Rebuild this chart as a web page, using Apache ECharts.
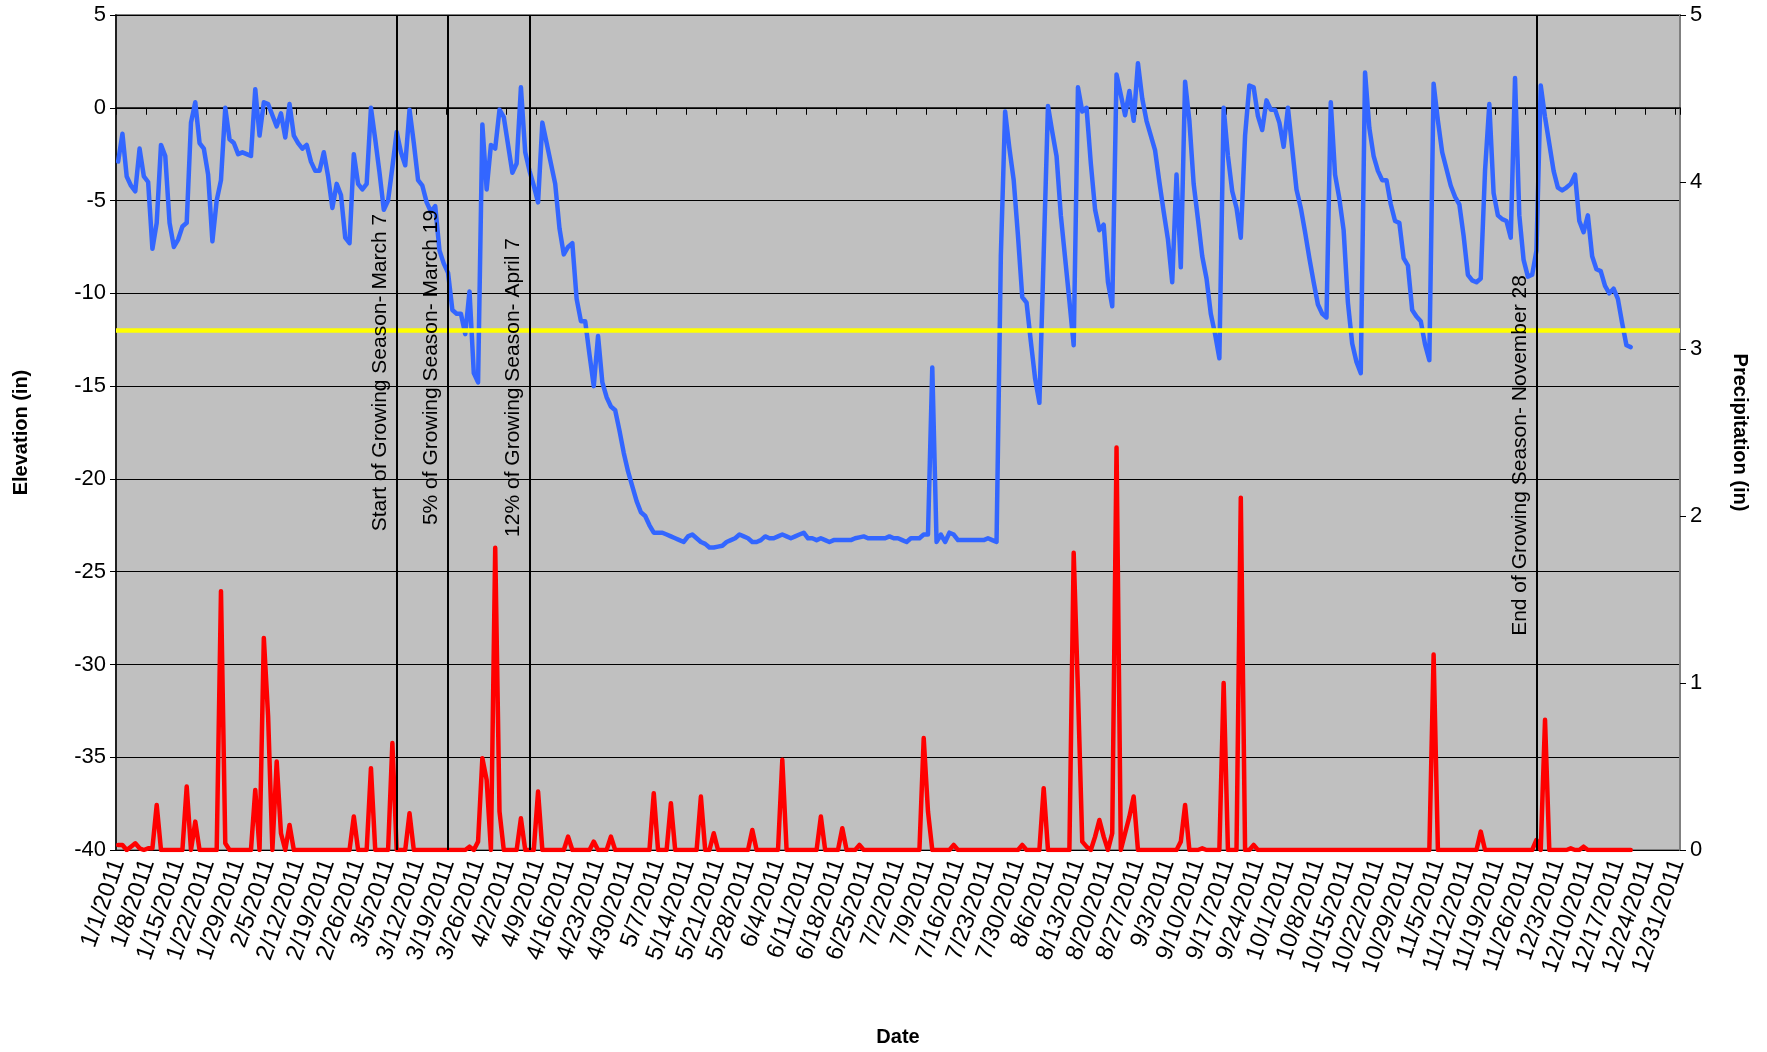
<!DOCTYPE html>
<html>
<head>
<meta charset="utf-8">
<script src="https://cdn.jsdelivr.net/npm/echarts@6/dist/echarts.min.js"></script>
<style>
  html, body { margin: 0; padding: 0; background: #ffffff; }
  #chart { width: 1767px; height: 1052px; }
</style>
</head>
<body>
<div id="chart"></div>
<script>
// Daily dates for 2011 (category axis)
const monthLengths = [31, 28, 31, 30, 31, 30, 31, 31, 30, 31, 30, 31];
const dates = [];
monthLengths.forEach(function (len, m) {
  for (let d = 1; d <= len; d++) dates.push((m + 1) + '/' + d + '/2011');
});

// Water table elevation (in), one value per day from 1/1/2011
const elevation = [
  -2.9, -1.4, -3.7, -4.2, -4.5, -2.2, -3.7, -4.0, -7.6, -6.2,
  -2.0, -2.6, -6.2, -7.5, -7.1, -6.4, -6.2, -0.8, 0.3, -1.9,
  -2.2, -3.6, -7.2, -5.0, -3.9, 0.0, -1.7, -1.9, -2.5, -2.4,
  -2.5, -2.6, 1.0, -1.5, 0.3, 0.2, -0.4, -1.0, -0.3, -1.6,
  0.2, -1.5, -1.9, -2.2, -2.0, -2.9, -3.4, -3.4, -2.4, -3.7,
  -5.4, -4.1, -4.7, -7.0, -7.3, -2.5, -4.1, -4.4, -4.1, 0.0,
  -1.7, -3.5, -5.5, -5.0, -3.2, -1.3, -2.4, -3.1, -0.1, -1.9,
  -3.9, -4.2, -5.1, -5.6, -5.3, -7.7, -8.4, -8.9, -10.9, -11.1,
  -11.1, -12.2, -9.9, -14.3, -14.8, -0.9, -4.4, -2.0, -2.2, -0.1,
  -0.5, -2.0, -3.5, -3.0, 1.1, -2.4, -3.4, -4.2, -5.1, -0.8,
  -1.9, -3.0, -4.1, -6.5, -7.9, -7.5, -7.3, -10.3, -11.5, -11.5,
  -13.3, -15.0, -12.3, -14.8, -15.6, -16.1, -16.3, -17.4, -18.6, -19.6,
  -20.4, -21.2, -21.8, -22.0, -22.5, -22.9, -22.9, -22.9, -23.0, -23.1,
  -23.2, -23.3, -23.4, -23.1, -23.0, -23.2, -23.4, -23.5, -23.7, -23.7,
  -23.65, -23.6, -23.4, -23.3, -23.2, -23.0, -23.1, -23.2, -23.4, -23.4,
  -23.3, -23.1, -23.2, -23.2, -23.1, -23.0, -23.1, -23.2, -23.1, -23.0,
  -22.9, -23.2, -23.2, -23.3, -23.2, -23.3, -23.4, -23.3, -23.3, -23.3,
  -23.3, -23.3, -23.2, -23.15, -23.1, -23.2, -23.2, -23.2, -23.2, -23.2,
  -23.1, -23.2, -23.2, -23.3, -23.4, -23.2, -23.2, -23.2, -23.0, -23.0,
  -14.0, -23.4, -23.0, -23.4, -22.9, -23.0, -23.3, -23.3, -23.3, -23.3,
  -23.3, -23.3, -23.3, -23.2, -23.3, -23.4, -8.0, -0.2, -2.2, -3.9,
  -6.9, -10.2, -10.5, -12.6, -14.6, -15.9, -7.9, 0.1, -1.3, -2.6,
  -5.8, -8.1, -10.4, -12.8, 1.1, -0.2, 0.0, -3.0, -5.5, -6.6,
  -6.3, -9.4, -10.7, 1.8, 0.7, -0.4, 0.9, -0.7, 2.4, 0.5,
  -0.7, -1.5, -2.3, -4.0, -5.6, -7.1, -9.4, -3.6, -8.6, 1.4,
  -0.7, -4.1, -6.0, -8.0, -9.2, -11.1, -12.2, -13.5, 0.0, -2.6,
  -4.5, -5.4, -7.0, -1.5, 1.2, 1.1, -0.45, -1.2, 0.4, -0.1,
  -0.1, -0.8, -2.1, 0.0, -2.2, -4.4, -5.4, -6.7, -8.1, -9.4,
  -10.6, -11.1, -11.3, 0.3, -3.6, -4.9, -6.6, -10.5, -12.7, -13.7,
  -14.3, 1.9, -1.1, -2.6, -3.4, -3.9, -3.9, -5.2, -6.1, -6.2,
  -8.1, -8.5, -10.9, -11.25, -11.5, -12.75, -13.6, 1.3, -0.7, -2.4,
  -3.3, -4.2, -4.8, -5.2, -6.9, -9.0, -9.3, -9.4, -9.2, -3.4,
  0.2, -4.6, -5.8, -6.0, -6.1, -7.0, 1.6, -5.8, -8.2, -9.1,
  -9.0, -7.7, 1.2, -0.5, -1.95, -3.4, -4.3, -4.45, -4.3, -4.1,
  -3.6, -6.1, -6.7, -5.8, -8.0, -8.7, -8.8, -9.6, -10.0, -9.75,
  -10.3, -11.6, -12.8, -12.9
];

// Daily precipitation (in), one value per day from 1/1/2011
const precipitation = [
  0.03, 0.03, 0, 0.02, 0.04, 0.01, 0, 0.01, 0.01, 0.27,
  0, 0, 0, 0, 0, 0, 0.38, 0, 0.17, 0,
  0, 0, 0, 0, 1.55, 0.04, 0, 0, 0, 0,
  0, 0, 0.36, 0, 1.27, 0.8, 0, 0.53, 0.1, 0,
  0.15, 0, 0, 0, 0, 0, 0, 0, 0, 0,
  0, 0, 0, 0, 0, 0.2, 0, 0, 0, 0.49,
  0, 0, 0, 0, 0.64, 0, 0, 0, 0.22, 0,
  0, 0, 0, 0, 0, 0, 0, 0, 0, 0,
  0, 0, 0.02, 0, 0.05, 0.55, 0.42, 0, 1.81, 0.23,
  0, 0, 0, 0, 0.19, 0, 0, 0, 0.35, 0,
  0, 0, 0, 0, 0, 0.08, 0, 0, 0, 0,
  0, 0.05, 0, 0, 0, 0.08, 0, 0, 0, 0,
  0, 0, 0, 0, 0, 0.34, 0, 0, 0, 0.28,
  0, 0, 0, 0, 0, 0, 0.32, 0, 0, 0.1,
  0, 0, 0, 0, 0, 0, 0, 0, 0.12, 0,
  0, 0, 0, 0, 0, 0.54, 0, 0, 0, 0,
  0, 0, 0, 0, 0.2, 0, 0, 0, 0, 0.13,
  0, 0, 0, 0.03, 0, 0, 0, 0, 0, 0,
  0, 0, 0, 0, 0, 0, 0, 0, 0.67, 0.23,
  0, 0, 0, 0, 0, 0.03, 0, 0, 0, 0,
  0, 0, 0, 0, 0, 0, 0, 0, 0, 0,
  0, 0.03, 0, 0, 0, 0, 0.37, 0, 0, 0,
  0, 0, 0, 1.78, 0.95, 0.05, 0.02, 0, 0.08, 0.18,
  0.08, 0, 0.1, 2.41, 0, 0.1, 0.2, 0.32, 0, 0,
  0, 0, 0, 0, 0, 0, 0, 0, 0.05, 0.27,
  0, 0, 0, 0.01, 0, 0, 0, 0, 1.0, 0,
  0, 0, 2.11, 0, 0, 0.03, 0, 0, 0, 0,
  0, 0, 0, 0, 0, 0, 0, 0, 0, 0,
  0, 0, 0, 0, 0, 0, 0, 0, 0, 0,
  0, 0, 0, 0, 0, 0, 0, 0, 0, 0,
  0, 0, 0, 0, 0, 0, 0, 1.17, 0, 0,
  0, 0, 0, 0, 0, 0, 0, 0, 0.11, 0,
  0, 0, 0, 0, 0, 0, 0, 0, 0, 0,
  0, 0.06, 0, 0.78, 0, 0, 0, 0, 0, 0.01,
  0, 0, 0.02, 0, 0, 0, 0, 0, 0, 0,
  0, 0, 0, 0
];

// Growing-season markers: date, caption, text shift along the line (px, + = up)
const seasonDates = ['3/7/2011', '3/19/2011', '4/7/2011', '11/28/2011'];
const seasonLabels = [
  'Start of Growing Season- March 7',
  '5% of Growing Season- March 19',
  '12% of Growing Season- April 7',
  'End of Growing Season- November 28'
];
const seasonShift = [60, 65, 45, -23];

// Reference elevation line
const targetElevation = -12;

const FONT = '"Liberation Sans", Arial, Helvetica, sans-serif';

const seasonMarks = seasonDates.map(function (d, i) {
  const s = seasonShift[i];
  return {
    xAxis: d,
    lineStyle: { color: '#000000', width: 2, type: 'solid' },
    label: {
      show: true,
      formatter: seasonLabels[i],
      position: 'insideMiddleTop',
      distance: 6,
      color: '#000000',
      fontSize: 21,
      fontFamily: FONT,
      padding: s >= 0 ? [0, 0, 0, 2 * s] : [0, -2 * s, 0, 0]
    }
  };
});

const chart = echarts.init(document.getElementById('chart'), null, { renderer: 'canvas' });

chart.setOption({
  animation: false,
  backgroundColor: '#ffffff',
  grid: {
    left: 116, right: 87, top: 15, bottom: 199,
    show: true,
    backgroundColor: '#C0C0C0',
    borderColor: '#808080',
    borderWidth: 2
  },
  xAxis: {
    type: 'category',
    data: dates,
    boundaryGap: true,
    name: 'Date',
    nameLocation: 'middle',
    nameGap: 177,
    nameTextStyle: { fontFamily: FONT, fontWeight: 'bold', fontSize: 20, color: '#000000' },
    axisLine: { show: true, lineStyle: { color: '#000000', width: 1.5 } },
    axisTick: { show: true, interval: 6, length: 7, lineStyle: { color: '#000000', width: 1 } },
    axisLabel: {
      interval: 6, rotate: 71, margin: 10,
      fontSize: 24, color: '#000000', fontFamily: FONT
    },
    splitLine: { show: false }
  },
  yAxis: [
    {
      type: 'value', min: -40, max: 5, interval: 5,
      name: 'Elevation (in)',
      nameLocation: 'middle', nameRotate: 90, nameGap: 85,
      nameTextStyle: { fontFamily: FONT, fontWeight: 'bold', fontSize: 20, color: '#000000' },
      axisLine: { show: true, lineStyle: { color: '#000000', width: 1.5 } },
      axisTick: { show: true, length: 6, lineStyle: { color: '#000000' } },
      axisLabel: { fontSize: 22, color: '#000000', fontFamily: FONT, margin: 10 },
      splitLine: { show: true, lineStyle: { color: '#000000', width: 1 } }
    },
    {
      type: 'value', min: 0, max: 5, interval: 1, position: 'right',
      name: 'Precipitation (in)',
      nameLocation: 'middle', nameRotate: -90, nameGap: 50,
      nameTextStyle: { fontFamily: FONT, fontWeight: 'bold', fontSize: 20, color: '#000000' },
      axisLine: { show: true, lineStyle: { color: '#808080', width: 2 } },
      axisTick: { show: true, length: 6, lineStyle: { color: '#000000' } },
      axisLabel: { fontSize: 22, color: '#000000', fontFamily: FONT, margin: 10 },
      splitLine: { show: false }
    }
  ],
  series: [
    {
      name: 'Markers',
      type: 'line',
      data: [],
      silent: true,
      markLine: {
        silent: true,
        symbol: ['none', 'none'],
        animation: false,
        data: [
          {
            yAxis: targetElevation,
            lineStyle: { color: '#FFFF00', width: 4.5, type: 'solid' },
            label: { show: false }
          }
        ].concat(seasonMarks)
      }
    },
    {
      name: 'Elevation',
      type: 'line',
      yAxisIndex: 0,
      data: elevation,
      showSymbol: false,
      symbol: 'none',
      smooth: false,
      lineStyle: { color: '#3366FF', width: 4.5, join: 'round', cap: 'round' },
      z: 3
    },
    {
      name: 'Precipitation',
      type: 'line',
      yAxisIndex: 1,
      data: precipitation,
      showSymbol: false,
      symbol: 'none',
      smooth: false,
      lineStyle: { color: '#FF0000', width: 4.5, join: 'round', cap: 'round' },
      z: 3
    }
  ]
});
</script>
</body>
</html>
